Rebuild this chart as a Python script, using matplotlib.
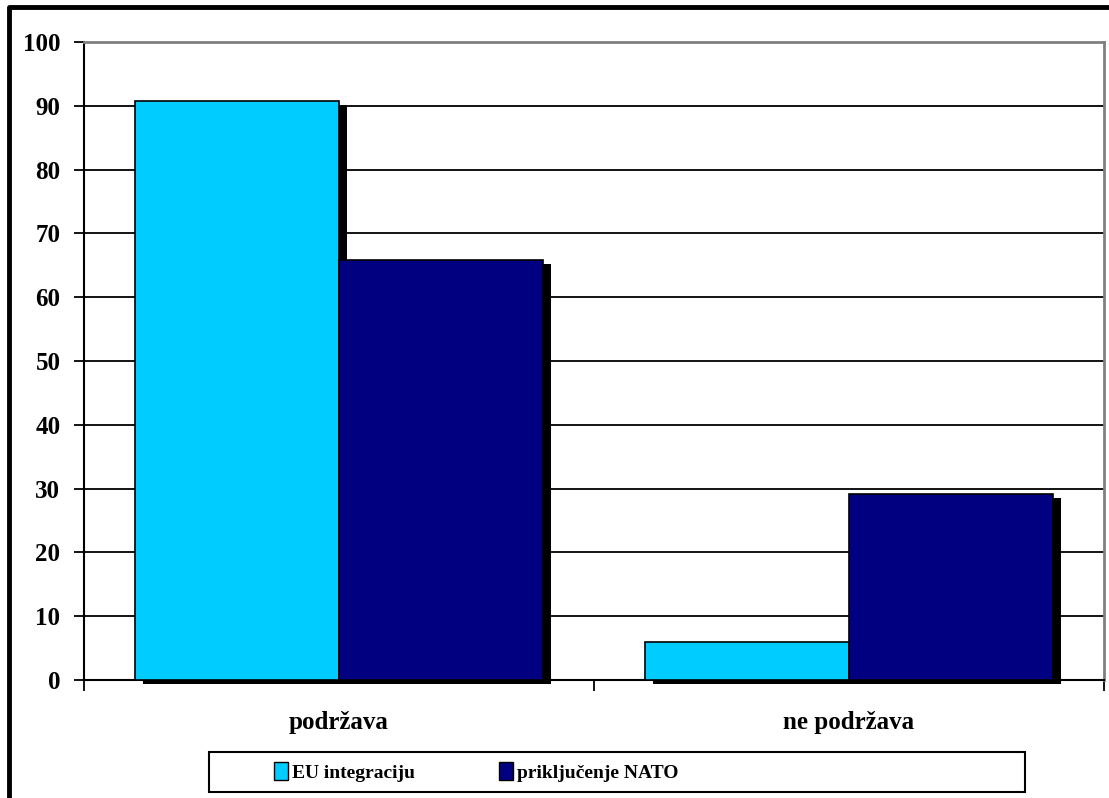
import matplotlib
matplotlib.use("Agg")
from matplotlib import pyplot as plt
from matplotlib import patheffects as pe
from matplotlib.lines import Line2D
from matplotlib.patches import Rectangle, Patch
import numpy as np

categories = ['podržava', 'ne podržava']
series_names = ['EU integraciju', 'priključenje NATO']
eu_values = [90.8, 6.0]
nato_values = [65.8, 29.2]
colors = ['#00CCFF', '#000080']
yticks = list(range(0, 101, 10))

plt.rcParams['font.family'] = ['Liberation Serif', 'DejaVu Serif']
plt.rcParams['font.weight'] = 'bold'

fig = plt.figure(figsize=(11.09, 7.98), dpi=100)
ax = fig.add_axes([84/1109, 1-680/798, 1020/1109, 638/798])

x = np.arange(len(categories))
w = 0.4
shadow = [pe.SimplePatchShadow(offset=(5.5, -3), shadow_rgbFace='black', alpha=1.0), pe.Normal()]
for i, (vals, c) in enumerate(zip([eu_values, nato_values], colors)):
    bars = ax.bar(x - w/2 + i*w, vals, width=w, color=c, edgecolor='black',
                  linewidth=1.2, zorder=3 + i)
    for b in bars:
        b.set_path_effects(shadow)
        b.set_clip_on(False)

ax.set_xlim(-0.5, 1.5)
ax.set_ylim(0, 100)
ax.set_yticks(yticks)
ax.set_yticklabels([str(t) for t in yticks], fontsize=18, fontweight='bold')
ax.yaxis.grid(True, color='black', linewidth=1.3, zorder=0)
ax.set_axisbelow(True)

# boundaries as major ticks, category names on minor ticks
ax.set_xticks([-0.5, 0.5, 1.5])
ax.set_xticklabels(['', '', ''])
ax.set_xticks(x, minor=True)
ax.set_xticklabels(categories, minor=True, fontsize=18, fontweight='bold')
ax.tick_params(axis='x', which='minor', length=0, pad=22)
ax.tick_params(axis='x', which='major', length=8, width=1.3, color='black')
ax.tick_params(axis='y', length=7, width=1.3, pad=10, direction='out')

for s in ['top', 'right']:
    ax.spines[s].set_color('#808080')
    ax.spines[s].set_linewidth(2)
for s in ['left', 'bottom']:
    ax.spines[s].set_color('black')
    ax.spines[s].set_linewidth(1.5)

# outer frame (left and top only visible)
fig.add_artist(Line2D([9/1109, 9/1109, 1.0], [0.0, 1-7/798, 1-7/798],
                      transform=fig.transFigure, color='black', linewidth=3.5))

# legend box
fig.add_artist(Rectangle((209/1109, 1-792/798), 816/1109, 40/798,
                         transform=fig.transFigure, fill=False,
                         edgecolor='black', linewidth=1.5))
handles = [Patch(facecolor=c, edgecolor='black', linewidth=1) for c in colors]
fig.legend(handles, series_names, loc='center left', ncol=2, frameon=False,
           bbox_to_anchor=(256/1109, 1-772/798),
           handlelength=0.75, handleheight=1.0, handletextpad=0.2,
           columnspacing=4.3, prop={'weight': 'bold', 'size': 14})

fig.savefig('out.png', dpi=100)
